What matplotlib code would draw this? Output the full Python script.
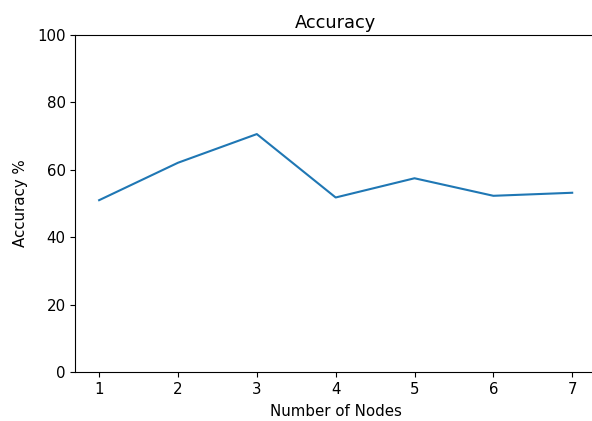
import matplotlib
matplotlib.use("Agg")
import matplotlib.pyplot as plt

nodes = [1, 2, 3, 4, 5, 6, 7]
accuracy = [51.0, 62.1, 70.6, 51.8, 57.5, 52.3, 53.2]

plt.rcParams["font.size"] = 10.8

fig = plt.figure(figsize=(5.92, 4.21), dpi=100)
ax = fig.add_axes([0.1275, 0.116, 0.879, 0.801])

ax.plot(nodes, accuracy, color="#1f77b4")
ax.set_ylim(0, 100)
ax.set_title("Accuracy", fontsize=12.8, pad=5)
ax.set_xlabel("Number of Nodes", labelpad=5)
ax.set_ylabel("Accuracy %", labelpad=7)

fig.savefig("out.png", dpi=100)
